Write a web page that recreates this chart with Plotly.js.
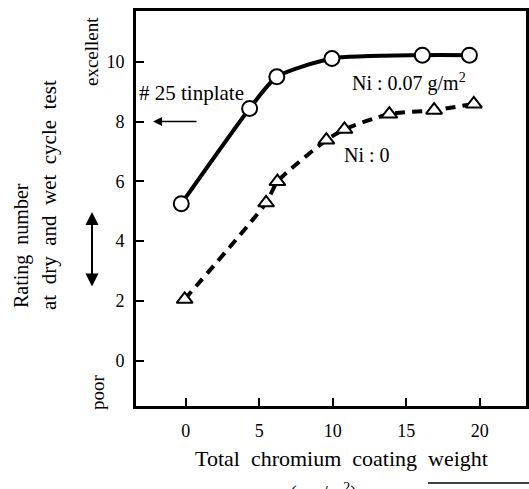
<!DOCTYPE html>
<html>
<head>
<meta charset="utf-8">
<script src="https://cdn.plot.ly/plotly-3.0.1.min.js"></script>
<style>html,body{margin:0;padding:0;background:#fff;}#chart{width:529px;height:489px;}</style>
</head>
<body>
<div id="chart"></div>
<script>
// Ni : 0.07 g/m2 series (circles)
const niX = [-0.3, 4.35, 6.2, 9.95, 16.1, 19.3];
const niY = [5.25, 8.44, 9.5, 10.11, 10.22, 10.22];
// Ni : 0 series (triangles)
const zeroX = [-0.07, 5.47, 6.24, 9.57, 10.8, 13.85, 16.9, 19.6];
const zeroY = [2.05, 5.28, 5.99, 7.38, 7.74, 8.25, 8.38, 8.59];
// axis ticks
const xTicks = [0, 5, 10, 15, 20];
const yTicks = [0, 2, 4, 6, 8, 10];
const tinplateLevel = 8;

const F = "Liberation Serif";
const S = '\u00A0\u00A0';

const traces = [
  {
    x: niX, y: niY, type: 'scatter', mode: 'lines+markers',
    line: {color: '#000', width: 4, shape: 'spline', smoothing: 0.6},
    marker: {symbol: 'circle', size: 15, color: '#fff', line: {color: '#000', width: 2}},
    showlegend: false, hoverinfo: 'skip'
  },
  {
    x: zeroX, y: zeroY, type: 'scatter', mode: 'lines+markers',
    line: {color: '#000', width: 4, dash: '10px,7px', shape: 'spline', smoothing: 0.6},
    marker: {symbol: 'triangle-up', size: 14, color: '#fff', line: {color: '#000', width: 2}},
    showlegend: false, hoverinfo: 'skip'
  }
];

const layout = {
  width: 529, height: 489,
  margin: {l: 136, r: 3, t: 11, b: 83},
  paper_bgcolor: '#fff', plot_bgcolor: '#fff',
  font: {family: F, color: '#000', size: 18},
  xaxis: {
    range: [-3.38, 23.15], tickvals: xTicks, ticktext: xTicks.map(String),
    ticks: 'inside', ticklen: 8, tickwidth: 2, tickcolor: '#000',
    showline: true, linecolor: '#000', linewidth: 3, mirror: true,
    showgrid: false, zeroline: false, ticklabelstandoff: 6,
    tickfont: {family: F, size: 18, color: '#000'}
  },
  yaxis: {
    range: [-1.52, 11.7], tickvals: yTicks, ticktext: yTicks.map(String),
    ticks: 'inside', ticklen: 8, tickwidth: 2, tickcolor: '#000',
    showline: true, linecolor: '#000', linewidth: 3, mirror: true,
    showgrid: false, zeroline: false, ticklabelstandoff: 5,
    tickfont: {family: F, size: 18, color: '#000'}
  },
  annotations: [
    {xref: 'paper', yref: 'paper', x: (341-136)/390, y: (406-458)/395,
     text: ['Total', 'chromium', 'coating', 'weight'].join(S),
     showarrow: false, xanchor: 'center', yanchor: 'middle', font: {family: F, size: 22}},
    {xref: 'paper', yref: 'paper', x: (323-136)/390, y: (406-478)/395, text: '(mg/m<sup>2</sup>)',
     showarrow: false, xanchor: 'center', yanchor: 'top', font: {family: F, size: 20}},
    {xref: 'paper', yref: 'paper', x: (21-136)/390, y: (406-246)/395, text: 'Rating' + S + 'number',
     showarrow: false, textangle: -90, xanchor: 'center', yanchor: 'middle', font: {family: F, size: 20}},
    {xref: 'paper', yref: 'paper', x: (49-136)/390, y: (406-195)/395,
     text: ['at', 'dry', 'and', 'wet', 'cycle', 'test'].join(S),
     showarrow: false, textangle: -90, xanchor: 'center', yanchor: 'middle', font: {family: F, size: 21}},
    {xref: 'paper', yref: 'paper', x: (91-136)/390, y: (406-52)/395, text: 'excellent',
     showarrow: false, textangle: -90, xanchor: 'center', yanchor: 'middle', font: {family: F, size: 19}},
    {xref: 'paper', yref: 'paper', x: (97-136)/390, y: (406-392)/395, text: 'poor',
     showarrow: false, textangle: -90, xanchor: 'center', yanchor: 'middle', font: {family: F, size: 19}},
    // double arrow
    {xref: 'paper', yref: 'paper', x: (92-136)/390, y: (406-212)/395,
     axref: 'pixel', ayref: 'pixel', ax: 0, ay: 76, text: '', showarrow: true,
     arrowhead: 2, arrowside: 'end+start', arrowsize: 1.3, arrowwidth: 2, arrowcolor: '#000'},
    // tinplate
    {x: -3.3, y: 8.95, text: '# 25 tinplate', showarrow: false, xanchor: 'left', yanchor: 'middle',
     font: {family: F, size: 21}},
    {x: -2.22, y: tinplateLevel, axref: 'x', ayref: 'y', ax: 0.84, ay: tinplateLevel, text: '',
     showarrow: true, arrowhead: 2, arrowsize: 1.2, arrowwidth: 1.5, arrowcolor: '#000'},
    {x: 11.18, y: 9.32, text: 'Ni : 0.07 g/m<sup>2</sup>', showarrow: false, xanchor: 'left', yanchor: 'middle',
     font: {family: F, size: 20}},
    {x: 10.63, y: 6.88, text: 'Ni : 0', showarrow: false, xanchor: 'left', yanchor: 'middle',
     font: {family: F, size: 20}}
  ],
  shapes: [
    {type: 'line', xref: 'paper', yref: 'paper', x0: (428-136)/390, x1: (529-136)/390,
     y0: (406-483)/395, y1: (406-483)/395, line: {color: '#000', width: 1.5}}
  ]
};

Plotly.newPlot('chart', traces, layout, {displayModeBar: false, staticPlot: true});
</script>
</body>
</html>
